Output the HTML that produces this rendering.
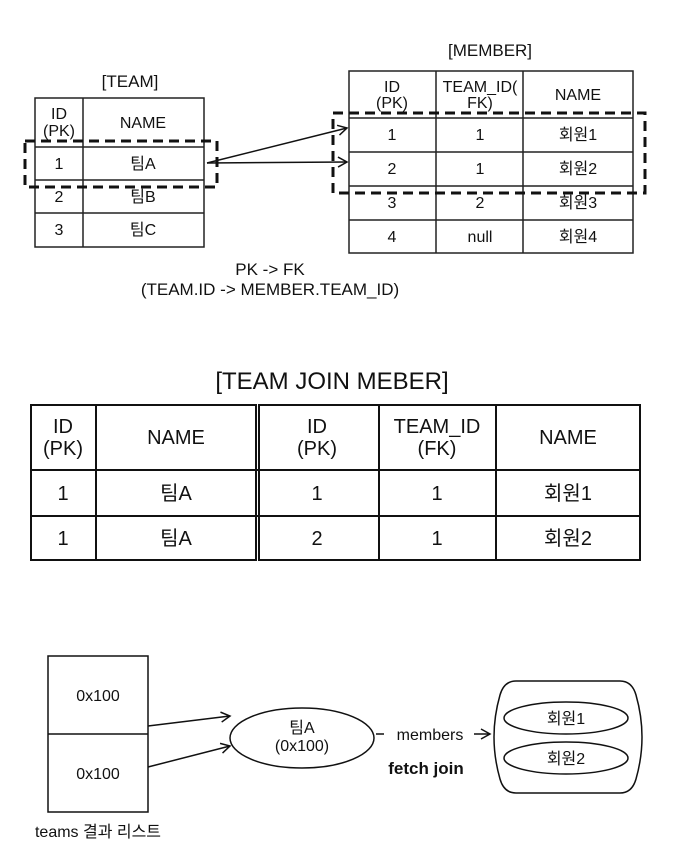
<!DOCTYPE html>
<html><head><meta charset="utf-8"><style>
body{margin:0;background:#fff;}
svg text{font-family:"Liberation Sans","Noto Sans CJK KR",sans-serif;fill:#111;}
</style></head><body>
<svg width="688" height="859" viewBox="0 0 688 859" xmlns="http://www.w3.org/2000/svg">
<defs><marker id="ah" markerWidth="12" markerHeight="12" refX="10" refY="6" orient="auto" markerUnits="userSpaceOnUse"><path d="M1,1 L10,6 L1,11" fill="none" stroke="#111" stroke-width="1.5"/></marker></defs>
<g stroke="#222" stroke-width="1.5" fill="none">
<rect x="35" y="98" width="169" height="149"/>
<line x1="83" y1="98" x2="83" y2="247"/>
<line x1="35" y1="147" x2="204" y2="147"/>
<line x1="35" y1="180" x2="204" y2="180"/>
<line x1="35" y1="213" x2="204" y2="213"/>
<rect x="349" y="71" width="284" height="182"/>
<line x1="436" y1="71" x2="436" y2="253"/>
<line x1="523" y1="71" x2="523" y2="253"/>
<line x1="349" y1="118" x2="633" y2="118"/>
<line x1="349" y1="152" x2="633" y2="152"/>
<line x1="349" y1="186" x2="633" y2="186"/>
<line x1="349" y1="220" x2="633" y2="220"/>
</g>
<g stroke="#111" stroke-width="3" fill="none" stroke-dasharray="10,6">
<rect x="25" y="141" width="192" height="46"/>
<rect x="333" y="113" width="312" height="80"/>
</g>
<g stroke="#111" stroke-width="1.5">
<line x1="207" y1="163" x2="347" y2="128" marker-end="url(#ah)"/>
<line x1="207" y1="163" x2="347" y2="162" marker-end="url(#ah)"/>
</g>
<g font-size="16" text-anchor="middle">
<text x="130" y="87" font-size="17">[TEAM]</text>
<text x="490" y="56" font-size="17">[MEMBER]</text>
<text x="59" y="119">ID</text><text x="59" y="136">(PK)</text>
<text x="143" y="128">NAME</text>
<text x="59" y="169">1</text><text x="143" y="169">팀A</text>
<text x="59" y="202">2</text><text x="143" y="202">팀B</text>
<text x="59" y="235">3</text><text x="143" y="235">팀C</text>
<text x="392" y="92">ID</text><text x="392" y="108">(PK)</text>
<text x="480" y="92">TEAM_ID(</text><text x="480" y="108">FK)</text>
<text x="578" y="100">NAME</text>
<text x="392" y="140">1</text><text x="480" y="140">1</text><text x="578" y="140">회원1</text>
<text x="392" y="174">2</text><text x="480" y="174">1</text><text x="578" y="174">회원2</text>
<text x="392" y="208">3</text><text x="480" y="208">2</text><text x="578" y="208">회원3</text>
<text x="392" y="242">4</text><text x="480" y="242">null</text><text x="578" y="242">회원4</text>
<text x="270" y="275" font-size="17">PK -&gt; FK</text>
<text x="270" y="295" font-size="17">(TEAM.ID -&gt; MEMBER.TEAM_ID)</text>
</g>
<g stroke="#111" stroke-width="2" fill="none">
<rect x="31" y="405" width="225" height="155"/>
<rect x="259" y="405" width="381" height="155"/>
<line x1="96" y1="405" x2="96" y2="560"/>
<line x1="379" y1="405" x2="379" y2="560"/>
<line x1="496" y1="405" x2="496" y2="560"/>
<line x1="31" y1="470" x2="640" y2="470"/>
<line x1="31" y1="516" x2="640" y2="516"/>
</g>
<g font-size="20" text-anchor="middle">
<text x="332" y="389" font-size="24">[TEAM JOIN MEBER]</text>
<text x="63" y="433">ID</text><text x="63" y="455">(PK)</text>
<text x="176" y="444">NAME</text>
<text x="317" y="433">ID</text><text x="317" y="455">(PK)</text>
<text x="437" y="433">TEAM_ID</text><text x="437" y="455">(FK)</text>
<text x="568" y="444">NAME</text>
<text x="63" y="500">1</text><text x="176" y="500">팀A</text><text x="317" y="500">1</text><text x="437" y="500">1</text><text x="568" y="500">회원1</text>
<text x="63" y="545">1</text><text x="176" y="545">팀A</text><text x="317" y="545">2</text><text x="437" y="545">1</text><text x="568" y="545">회원2</text>
</g>
<g stroke="#111" stroke-width="1.5" fill="none">
<rect x="48" y="656" width="100" height="156"/>
<line x1="48" y1="734" x2="148" y2="734"/>
<ellipse cx="302" cy="738" rx="72" ry="30"/>
<line x1="148" y1="726" x2="230" y2="716" marker-end="url(#ah)"/>
<line x1="148" y1="767" x2="230" y2="746" marker-end="url(#ah)"/>
<line x1="376" y1="734" x2="384" y2="734"/>
<line x1="474" y1="734" x2="490" y2="734" marker-end="url(#ah)"/>
<path d="M516,681 L620,681 Q632,681 636,695 Q648,737 636,779 Q632,793 620,793 L516,793 Q504,793 500,779 Q488,737 500,695 Q504,681 516,681 Z"/>
<ellipse cx="566" cy="718" rx="62" ry="16"/>
<ellipse cx="566" cy="758" rx="62" ry="16"/>
</g>
<g font-size="16" text-anchor="middle">
<text x="98" y="701">0x100</text>
<text x="98" y="779">0x100</text>
<text x="302" y="733">팀A</text>
<text x="302" y="751">(0x100)</text>
<text x="430" y="740">members</text>
<text x="426" y="774" font-weight="bold" font-size="17">fetch join</text>
<text x="566" y="724">회원1</text>
<text x="566" y="764">회원2</text>
<text x="98" y="837" font-size="16">teams 결과 리스트</text>
</g>
</svg>
</body></html>
